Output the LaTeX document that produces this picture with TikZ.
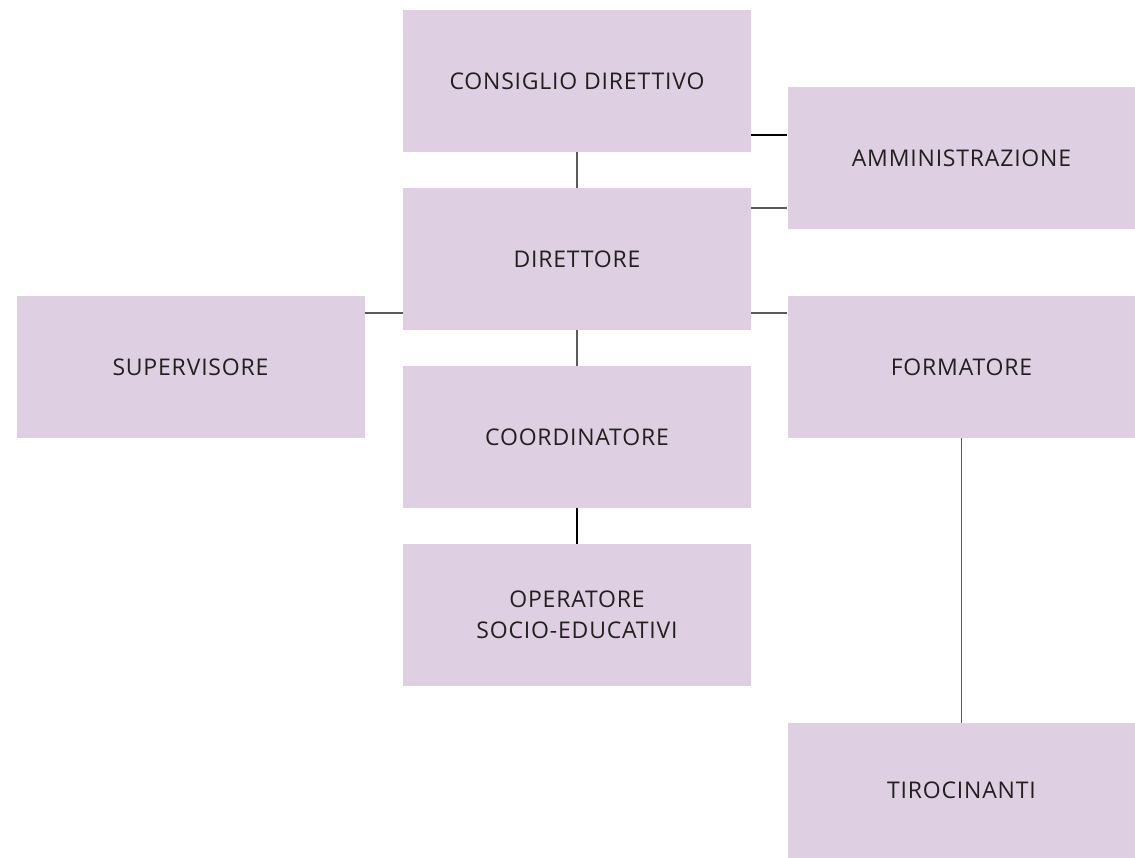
\documentclass[tikz,border=0pt]{standalone}
\usepackage{fontspec}
\setmainfont[LetterSpace=3.5]{Open Sans}
\definecolor{boxlilac}{RGB}{222,208,226}
\definecolor{linegray}{RGB}{90,90,90}
\definecolor{textdark}{RGB}{35,31,32}

\begin{document}
\begin{tikzpicture}[x=1pt, y=-1pt,
    role/.style={rectangle, fill=boxlilac, minimum width=348pt, minimum height=142pt,
        inner sep=0pt, align=center, text=textdark, font=\fontsize{23}{31}\selectfont},
    link/.style={draw=linegray, line width=1.5pt}]
    % Page frame
    \useasboundingbox (0,0) rectangle (1135,858);

    % Boxes
    \node[role] (consiglio) at (577,81) {CONSIGLIO DIRETTIVO};
    \node[role] (amministrazione) at (961.5,158) {AMMINISTRAZIONE};
    \node[role] (direttore) at (577,259) {DIRETTORE};
    \node[role] (supervisore) at (190.5,367) {SUPERVISORE};
    \node[role] (formatore) at (961.5,367) {FORMATORE};
    \node[role] (coordinatore) at (577,437) {COORDINATORE};
    \node[role] (operatore) at (577,615) {OPERATORE\\SOCIO-EDUCATIVI};
    \node[role, minimum height=135pt] (tirocinanti) at (961.5,790.5) {TIROCINANTI};

    % Vertical links
    \draw[link] (consiglio.south) -- (direttore.north);
    \draw[link] (direttore.south) -- (coordinatore.north);
    \draw[link, draw=black, line width=2pt] (coordinatore.south) -- (operatore.north);
    \draw[link] (formatore.south) -- (tirocinanti.north);

    % Horizontal links
    \draw[link, draw=black] ([yshift=17pt]consiglio.south east) -- ([yshift=17pt]consiglio.south east -| amministrazione.west);
    \draw[link] ([yshift=-20pt]direttore.north east) -- ([yshift=-20pt]direttore.north east -| amministrazione.west);
    \draw[link] ([yshift=-17pt]supervisore.north east) -- ([yshift=-17pt]supervisore.north east -| direttore.west);
    \draw[link] ([yshift=-17pt]formatore.north west) -- ([yshift=-17pt]formatore.north west -| direttore.east);
\end{tikzpicture}
\end{document}
